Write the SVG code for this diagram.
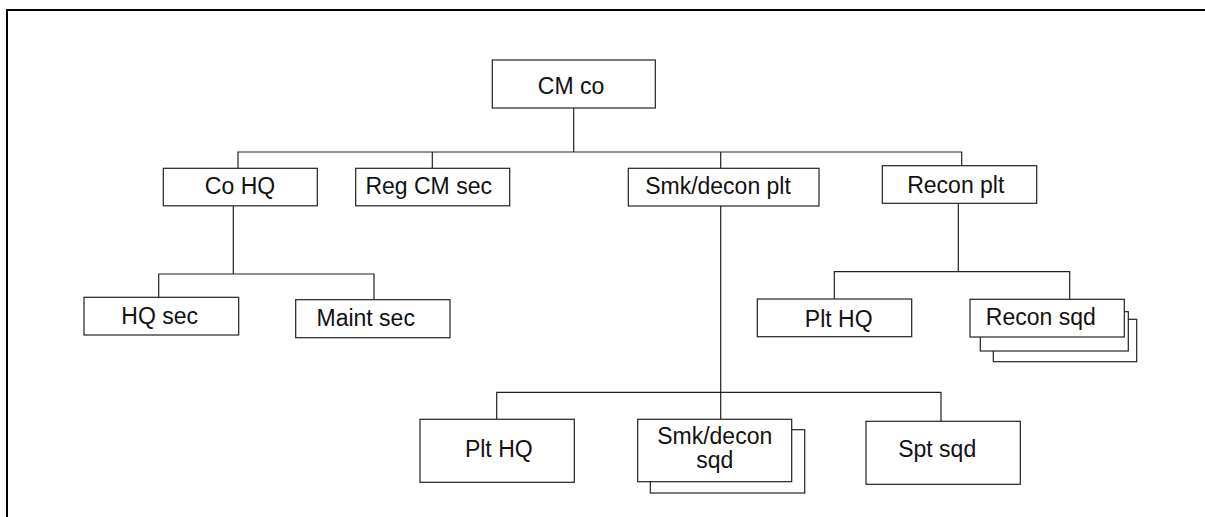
<svg xmlns="http://www.w3.org/2000/svg" width="1205" height="517" viewBox="0 0 1205 517">
<style>
.b{fill:#fff;stroke:#222;stroke-width:1.2}
.c{fill:none;stroke:#222;stroke-width:1.2}
.t{font-family:"Liberation Sans",Arial,sans-serif;font-size:23px;fill:#111;text-anchor:middle}
</style>
<rect x="0" y="0" width="1205" height="517" fill="#fff"/>
<path d="M7,517 V10 H1205" fill="none" stroke="#000" stroke-width="2"/>
<g id="connectors" class="c">
<path d="M573.7,108 V152 M238,168 V152 H961.7 V166 M432.3,152 V168 M720.7,152 V168"/>
<path d="M233.3,206 V274 M158.7,297 V274 H374 V300"/>
<path d="M720.7,206 V419 M496.7,419 V392.3 H941 V421"/>
<path d="M958.3,203 V271.7 M834.3,299 V271.7 H1069.7 V299"/>
</g>
<g id="cm-co"><rect class="b" x="492.3" y="60" width="163" height="48"/><text class="t" x="571" y="94.3">CM co</text></g>
<g id="co-hq"><rect class="b" x="163.3" y="168.3" width="154" height="37.5"/><text class="t" x="240" y="194.3">Co HQ</text></g>
<g id="reg-cm-sec"><rect class="b" x="355.7" y="168.3" width="154" height="37.5"/><text class="t" x="428.7" y="194.3">Reg CM sec</text></g>
<g id="smk-decon-plt"><rect class="b" x="628.3" y="168.3" width="190.7" height="37.7"/><text class="t" x="718" y="193.5">Smk/decon plt</text></g>
<g id="recon-plt"><rect class="b" x="882.3" y="165.7" width="154.4" height="37.6"/><text class="t" x="955.8" y="192.7">Recon plt</text></g>
<g id="hq-sec"><rect class="b" x="84" y="297.3" width="154.7" height="37.7"/><text class="t" x="159.7" y="324.3">HQ sec</text></g>
<g id="maint-sec"><rect class="b" x="295.7" y="299.7" width="154.3" height="38"/><text class="t" x="365.7" y="326">Maint sec</text></g>
<g id="plt-hq-recon"><rect class="b" x="757.3" y="299" width="154.4" height="37.7"/><text class="t" x="838.7" y="327">Plt HQ</text></g>
<g id="recon-sqd">
<rect class="b" x="993.3" y="319.3" width="143.4" height="42.4"/>
<rect class="b" x="980.3" y="311.7" width="148" height="39.3"/>
<rect class="b" x="970" y="299.3" width="154.3" height="37.7"/>
<text class="t" x="1040.8" y="325">Recon sqd</text></g>
<g id="plt-hq-smk"><rect class="b" x="420" y="419.3" width="154.3" height="63"/><text class="t" x="498.8" y="457.3">Plt HQ</text></g>
<g id="smk-decon-sqd">
<rect class="b" x="650.3" y="429.7" width="154.4" height="63.3"/>
<rect class="b" x="637.7" y="419.3" width="154" height="62.4"/>
<text class="t" x="714.7" y="444">Smk/decon</text><text class="t" x="714.7" y="468.3">sqd</text></g>
<g id="spt-sqd"><rect class="b" x="866" y="421.3" width="154.3" height="63"/><text class="t" x="937.2" y="457.3">Spt sqd</text></g>
</svg>
